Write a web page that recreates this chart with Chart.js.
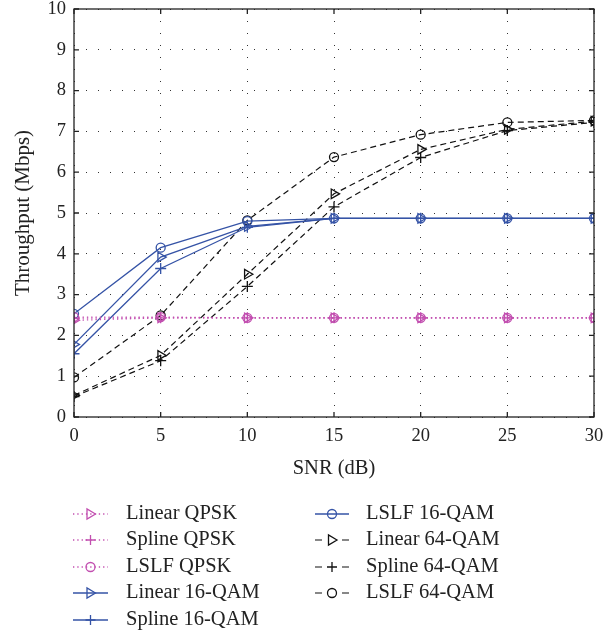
<!DOCTYPE html>
<html>
<head>
<meta charset="utf-8">
<script src="https://cdn.jsdelivr.net/npm/chart.js@4.4.0/dist/chart.umd.min.js"></script>
<style>
  body { margin: 0; background: #fff; }
  #wrap { width: 614px; height: 636px; }
</style>
</head>
<body>
<div id="wrap"><canvas id="chart" width="614" height="636"></canvas></div>
<script>
// Data
const snr = [0, 5, 10, 15, 20, 25, 30];
const xTicks = [0, 5, 10, 15, 20, 25, 30];
const yTicks = [0, 1, 2, 3, 4, 5, 6, 7, 8, 9, 10];

const linearQpsk = [2.37, 2.43, 2.43, 2.43, 2.43, 2.43, 2.43];
const splineQpsk = [2.42, 2.43, 2.43, 2.43, 2.43, 2.43, 2.43];
const lslfQpsk = [2.45, 2.45, 2.43, 2.43, 2.43, 2.43, 2.43];

const linear16 = [1.78, 3.92, 4.67, 4.87, 4.87, 4.87, 4.87];
const spline16 = [1.55, 3.64, 4.65, 4.87, 4.87, 4.87, 4.87];
const lslf16 = [2.53, 4.15, 4.80, 4.87, 4.87, 4.87, 4.87];

const linear64 = [0.53, 1.51, 3.50, 5.47, 6.56, 7.05, 7.25];
const spline64 = [0.50, 1.38, 3.20, 5.15, 6.36, 7.02, 7.22];
const lslf64 = [0.97, 2.49, 4.82, 6.37, 6.92, 7.22, 7.27];

const PINK = '#c24fb0';
const BLUE = '#3553a6';
const BLACK = '#111111';
const FONT = '"Liberation Serif", "Times New Roman", serif';

// Build one dataset
function makeSet(label, values, color, dash, marker, width) {
    return {
        label: label,
        data: values.map((v, i) => ({ x: snr[i], y: v })),
        borderColor: color,
        borderWidth: width,
        borderDash: dash,
        pointStyle: marker === 'tri' ? 'triangle' : (marker === 'plus' ? 'cross' : 'circle'),
        pointRotation: marker === 'tri' ? 90 : 0,
        pointRadius: marker === 'circle' ? 4.5 : 5.5,
        pointBorderColor: color,
        pointBackgroundColor: 'rgba(0,0,0,0)',
        pointBorderWidth: 1.3,
        tension: 0,
        fill: false,
        marker: marker
    };
}

const datasets = [
    makeSet('Linear QPSK', linearQpsk, PINK, [1.3, 3], 'tri', 1.3),
    makeSet('Spline QPSK', splineQpsk, PINK, [1.3, 3], 'plus', 1.3),
    makeSet('LSLF QPSK', lslfQpsk, PINK, [1.3, 3], 'circle', 1.3),
    makeSet('Linear 16-QAM', linear16, BLUE, [], 'tri', 1.3),
    makeSet('Spline 16-QAM', spline16, BLUE, [], 'plus', 1.3),
    makeSet('LSLF 16-QAM', lslf16, BLUE, [], 'circle', 1.3),
    makeSet('Linear 64-QAM', linear64, BLACK, [6, 4], 'tri', 1.2),
    makeSet('Spline 64-QAM', spline64, BLACK, [6, 4], 'plus', 1.2),
    makeSet('LSLF 64-QAM', lslf64, BLACK, [6, 4], 'circle', 1.2)
];

// Small marker drawer used for the legend samples
function drawMarker(ctx, marker, x, y, color) {
    ctx.save();
    ctx.strokeStyle = color;
    ctx.lineWidth = 1.3;
    ctx.setLineDash([]);
    ctx.beginPath();
    if (marker === 'tri') {
        ctx.moveTo(x + 5, y);
        ctx.lineTo(x - 3.5, y - 5);
        ctx.lineTo(x - 3.5, y + 5);
        ctx.closePath();
    } else if (marker === 'plus') {
        ctx.moveTo(x - 5, y); ctx.lineTo(x + 5, y);
        ctx.moveTo(x, y - 5); ctx.lineTo(x, y + 5);
    } else {
        ctx.arc(x, y, 4.5, 0, Math.PI * 2);
    }
    ctx.stroke();
    ctx.restore();
}

// Frame box with inward ticks on all four sides
const framePlugin = {
    id: 'frame',
    afterDatasetsDraw(chart) {
        const ctx = chart.ctx;
        const a = chart.chartArea;
        const xs = chart.scales.x;
        const ys = chart.scales.y;
        ctx.save();
        ctx.strokeStyle = '#222';
        ctx.lineWidth = 1.3;
        ctx.setLineDash([]);
        ctx.strokeRect(a.left, a.top, a.right - a.left, a.bottom - a.top);
        ctx.beginPath();
        xTicks.forEach(t => {
            const px = xs.getPixelForValue(t);
            ctx.moveTo(px, a.bottom); ctx.lineTo(px, a.bottom - 5);
            ctx.moveTo(px, a.top); ctx.lineTo(px, a.top + 5);
        });
        yTicks.forEach(t => {
            const py = ys.getPixelForValue(t);
            ctx.moveTo(a.left, py); ctx.lineTo(a.left + 5, py);
            ctx.moveTo(a.right, py); ctx.lineTo(a.right - 5, py);
        });
        ctx.stroke();
        ctx.restore();
    }
};

// Two-column legend under the axis
const legendPlugin = {
    id: 'colLegend',
    afterDraw(chart) {
        const ctx = chart.ctx;
        const cols = [
            { x0: 73, x1: 108, tx: 126 },
            { x0: 315, x1: 349, tx: 366 }
        ];
        const rowY = [514, 540, 567, 593, 620];
        chart.data.datasets.forEach((ds, i) => {
            const c = cols[i < 5 ? 0 : 1];
            const y = rowY[i < 5 ? i : i - 5];
            const mx = (c.x0 + c.x1) / 2;
            ctx.save();
            ctx.strokeStyle = ds.borderColor;
            ctx.lineWidth = ds.borderWidth;
            if (ds.borderDash.length && ds.borderDash[0] > 2) {
                // dashed: one dash either side of the marker
                ctx.beginPath();
                ctx.moveTo(c.x0, y); ctx.lineTo(c.x0 + 7, y);
                ctx.moveTo(c.x1 - 7, y); ctx.lineTo(c.x1, y);
                ctx.stroke();
            } else {
                ctx.setLineDash(ds.borderDash);
                ctx.beginPath();
                ctx.moveTo(c.x0, y); ctx.lineTo(c.x1, y);
                ctx.stroke();
            }
            ctx.restore();
            drawMarker(ctx, ds.marker, mx, y, ds.borderColor);
            ctx.save();
            ctx.fillStyle = '#222';
            ctx.font = '20.5px ' + FONT;
            ctx.textBaseline = 'middle';
            ctx.fillText(ds.label, c.tx, y);
            ctx.restore();
        });
    }
};

const ctx = document.getElementById('chart').getContext('2d');
new Chart(ctx, {
    type: 'line',
    data: { datasets: datasets },
    plugins: [framePlugin, legendPlugin],
    options: {
        responsive: false,
        animation: false,
        layout: { padding: { left: 0, right: 20, top: 9, bottom: 155 } },
        plugins: { legend: { display: false }, tooltip: { enabled: false } },
        scales: {
            x: {
                type: 'linear',
                min: 0,
                max: 30,
                afterFit: s => { s.height = 64; },
                afterBuildTicks: s => { s.ticks = xTicks.map(v => ({ value: v })); },
                ticks: { color: '#222', padding: 8, font: { family: FONT, size: 18.5 } },
                grid: { color: '#333', lineWidth: 1, drawTicks: false },
                border: { display: false, dash: [1, 11] },
                title: { display: true, text: 'SNR (dB)', color: '#222', padding: { top: 0, bottom: 0, left: 6 }, font: { family: FONT, size: 20.5 } }
            },
            y: {
                type: 'linear',
                min: 0,
                max: 10,
                afterFit: s => { s.width = 74; s.paddingTop = 0; s.paddingBottom = 0; },
                afterBuildTicks: s => { s.ticks = yTicks.map(v => ({ value: v })); },
                ticks: { color: '#222', padding: 8, font: { family: FONT, size: 18.5 } },
                grid: { color: '#333', lineWidth: 1, drawTicks: false },
                border: { display: false, dash: [1, 11] },
                title: { display: true, text: 'Throughput (Mbps)', color: '#222', padding: { top: 11 }, font: { family: FONT, size: 21 } }
            }
        }
    }
});
</script>
</body>
</html>
